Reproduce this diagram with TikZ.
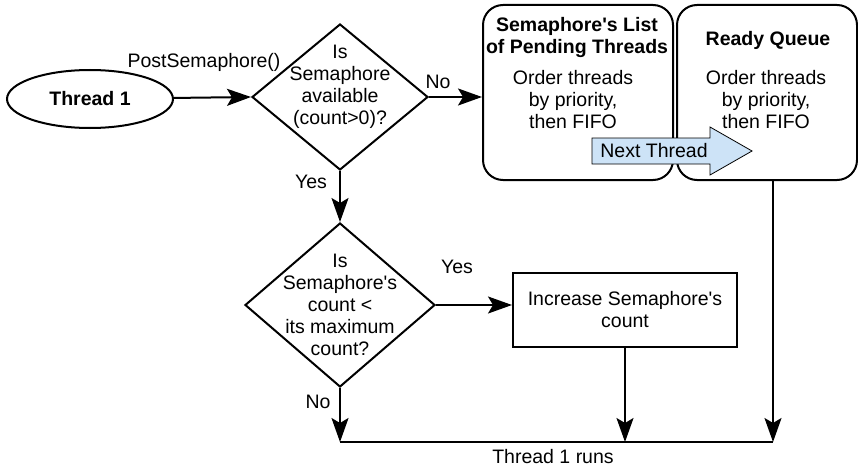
\documentclass[tikz,border=0pt]{standalone}
\usepackage{fontspec}
\setmainfont{Liberation Sans}
\usetikzlibrary{shapes.geometric,arrows.meta}
\definecolor{nextblue}{RGB}{205,227,247}
\tikzset{
  flow/.style={-{Stealth[length=24pt,width=17pt,inset=5pt]}},
  decision/.style={diamond,draw,inner sep=0pt},
  queuebox/.style={draw,rounded corners=20pt,minimum width=190pt,minimum height=175pt},
}
\begin{document}
\begin{tikzpicture}[x=1pt,y=-1pt,line width=2pt,font=\fontsize{19.5}{22}\selectfont]
\useasboundingbox (0,0) rectangle (858,468);
% thread
\node [ellipse,draw,minimum width=166pt,minimum height=58pt,inner sep=0pt] (thread) at (90,99) {\bfseries Thread 1};
% first question
\node [decision,minimum width=176pt,minimum height=146pt] (avail) at (340,97) {};
\node [align=center] (availtext) at (340,87) {Is\\Semaphore\\available\\(count>0)?};
\draw [flow] (thread) -- (avail.west);
\node (post) at (204,62) {PostSemaphore()};
% pending list
\node [queuebox] (pending) at (578,92.5) {};
\node [align=center,font=\fontsize{19.5}{22}\selectfont\bfseries] (pendingtitle) at (577,38) {Semaphore\textquotesingle s List\\of Pending Threads};
\node [align=center] (pendingtext) at (573,100) {Order threads\\by priority,\\then FIFO};
\draw [flow] (avail.east) -- (avail.east -| pending.west);
\node (no1) at (438,82) {No};
% ready queue
\node [queuebox,minimum width=180pt] (ready) at (767,92.5) {};
\node [font=\fontsize{19.5}{22}\selectfont\bfseries] (readytitle) at (768,40) {Ready Queue};
\node [align=center] (readytext) at (766,100) {Order threads\\by priority,\\then FIFO};
% next thread
\draw [line width=0.8pt,fill=nextblue] (592,138) -- (710,138) -- (710,127) -- (752,151)
  -- (710,175) -- (710,164) -- (592,164) -- cycle;
\node (nexttext) at (654,151) {Next Thread};
% second question
\node [decision,minimum width=190pt,minimum height=164pt] (countok) at (340,305) {};
\node [align=center] (countoktext) at (340,305) {Is\\Semaphore\textquotesingle s\\count <\\its maximum\\count?};
\draw [flow] (avail.south) -- (countok.north);
\node (yes1) at (311,182) {Yes};
% increase count
\node [draw,minimum width=224pt,minimum height=74pt,align=center] (increase) at (625,310) {Increase Semaphore\textquotesingle s\\count};
\draw [flow] (countok.east) -- (countok.east -| increase.west);
\node (yes2) at (457,267) {Yes};
% thread runs
\coordinate (runsleft) at (340,442);
\coordinate (runsright) at (773,442);
\draw (runsleft) -- (runsright);
\draw [flow] (countok.south) -- (runsleft);
\node (no2) at (318,402) {No};
\draw [flow] (increase.south) -- (increase.south |- runsleft);
\draw [flow] (ready.south -| runsright) -- (runsright);
\node (runs) at (553,457) {Thread 1 runs};
\end{tikzpicture}
\end{document}
